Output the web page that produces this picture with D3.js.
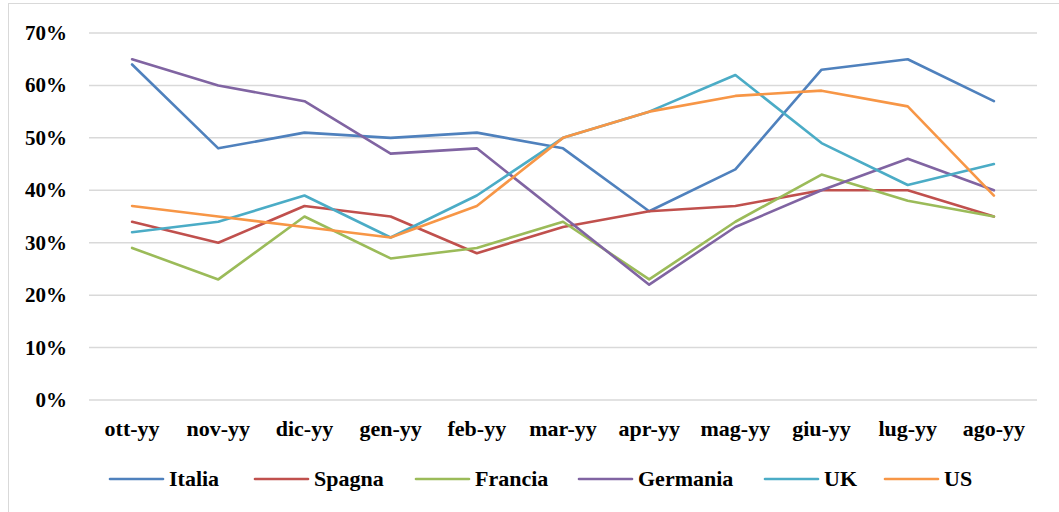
<!DOCTYPE html>
<html>
<head>
<meta charset="utf-8">
<script src="https://cdn.jsdelivr.net/npm/d3@7"></script>
</head>
<body style="margin:0; background:#fff">
<svg id="chart" width="1059" height="512"></svg>
<script>
// mesi
const months = ["ott-yy", "nov-yy", "dic-yy", "gen-yy", "feb-yy", "mar-yy", "apr-yy", "mag-yy", "giu-yy", "lug-yy", "ago-yy"];

// serie (valori in %)
const italia   = [64, 48, 51, 50, 51, 48, 36, 44, 63, 65, 57];
const spagna   = [34, 30, 37, 35, 28, 33, 36, 37, 40, 40, 35];
const francia  = [29, 23, 35, 27, 29, 34, 23, 34, 43, 38, 35];
const germania = [65, 60, 57, 47, 48, 35, 22, 33, 40, 46, 40];
const uk       = [32, 34, 39, 31, 39, 50, 55, 62, 49, 41, 45];
const us       = [37, 35, 33, 31, 37, 50, 55, 58, 59, 56, 39];

const yTicks = [0, 10, 20, 30, 40, 50, 60, 70];

const series = [
  { name: "Italia", values: italia, color: "#4f81bd" },
  { name: "Spagna", values: spagna, color: "#c0504d" },
  { name: "Francia", values: francia, color: "#9bbb59" },
  { name: "Germania", values: germania, color: "#8064a2" },
  { name: "UK", values: uk, color: "#4bacc6" },
  { name: "US", values: us, color: "#f79646" }
];

const svg = d3.select("#chart");

// bordo dell'area grafico
svg.append("rect")
  .attr("x", 8.5).attr("y", 3.5)
  .attr("width", 1070).attr("height", 530)
  .attr("fill", "none")
  .attr("stroke", "#d9d9d9")
  .attr("stroke-width", 1);

const x = d3.scaleBand().domain(months).range([89, 1037]);
const y = d3.scaleLinear().domain([0, 70]).range([400, 33]);

// griglia
svg.selectAll("line.grid")
  .data(yTicks)
  .enter()
  .append("line")
  .attr("class", "grid")
  .attr("x1", 89).attr("x2", 1037)
  .attr("y1", d => y(d)).attr("y2", d => y(d))
  .attr("stroke", "#d9d9d9")
  .attr("stroke-width", 1.5);

// etichette asse y
svg.selectAll("text.ytick")
  .data(yTicks)
  .enter()
  .append("text")
  .attr("class", "ytick")
  .attr("x", 67)
  .attr("y", d => y(d) + 7)
  .attr("text-anchor", "end")
  .attr("font-family", "Liberation Serif")
  .attr("font-weight", "bold")
  .attr("font-size", 21)
  .text(d => d + "%");

// etichette asse x
svg.selectAll("text.xtick")
  .data(months)
  .enter()
  .append("text")
  .attr("class", "xtick")
  .attr("x", d => x(d) + x.bandwidth() / 2)
  .attr("y", 436)
  .attr("text-anchor", "middle")
  .attr("font-family", "Liberation Serif")
  .attr("font-weight", "bold")
  .attr("font-size", 22)
  .text(d => d);

// linee
const line = d3.line()
  .x((d, i) => x(months[i]) + x.bandwidth() / 2)
  .y(d => y(d));

svg.selectAll("path.serie")
  .data(series)
  .enter()
  .append("path")
  .attr("class", "serie")
  .attr("d", d => line(d.values))
  .attr("fill", "none")
  .attr("stroke", d => d.color)
  .attr("stroke-width", 2.6)
  .attr("stroke-linejoin", "round")
  .attr("stroke-linecap", "round");

// legenda
const legendX = [110, 255, 416, 579, 765, 885];

svg.selectAll("line.leg")
  .data(series)
  .enter()
  .append("line")
  .attr("class", "leg")
  .attr("x1", (d, i) => legendX[i]).attr("x2", (d, i) => legendX[i] + 53)
  .attr("y1", 479).attr("y2", 479)
  .attr("stroke", d => d.color)
  .attr("stroke-width", 2.6)
  .attr("stroke-linecap", "round");

svg.selectAll("text.leg")
  .data(series)
  .enter()
  .append("text")
  .attr("class", "leg")
  .attr("x", (d, i) => legendX[i] + 59)
  .attr("y", 486)
  .attr("font-family", "Liberation Serif")
  .attr("font-weight", "bold")
  .attr("font-size", 22)
  .text(d => d.name);
</script>
</body>
</html>
